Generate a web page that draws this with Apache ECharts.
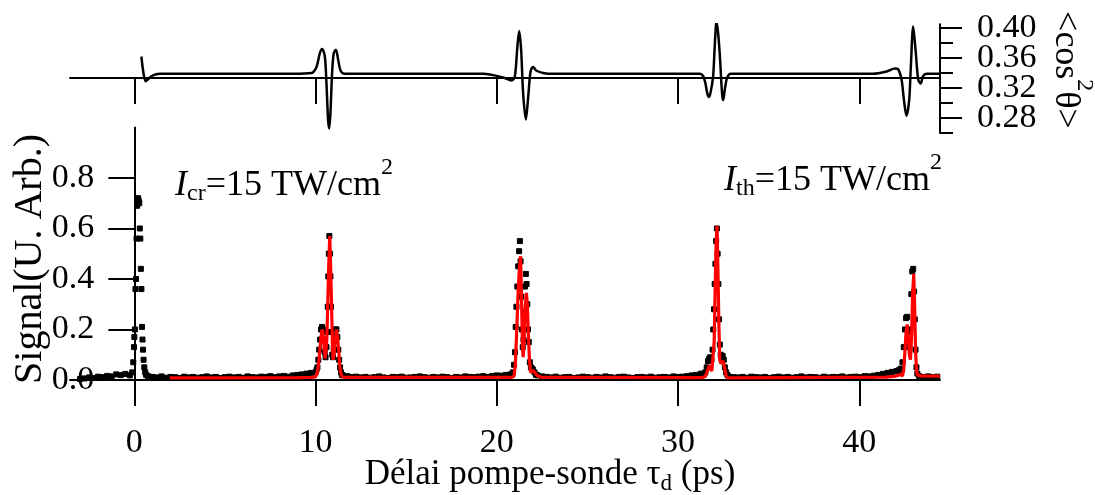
<!DOCTYPE html>
<html><head><meta charset="utf-8">
<script src="https://cdn.jsdelivr.net/npm/echarts@6/dist/echarts.min.js"></script>
<style>html,body{margin:0;padding:0;background:#fff}#c{width:1095px;height:495px}</style>
</head><body><div id="c"></div>
<script>
// ---------- tick values ----------
const xTicks = [0, 10, 20, 30, 40];
const sigTicks = [0, 0.2, 0.4, 0.6, 0.8];
const cosMajorTicks = [0.28, 0.32, 0.36, 0.40];
const cosLabelsA = [0.28, 0.36];
const cosLabelsB = [0.32, 0.40];
const cosMinorTicks = [0.26, 0.30, 0.34, 0.38];

// ---------- top panel: <cos^2 theta> (t in ps, value) ----------
const cosAlign = [
  [0.39,0.362],[0.49,0.342],[0.62,0.329],[0.73,0.331],[0.95,0.336],[1.41,0.339],[1.78,0.339],
  [8.76,0.339],[9.78,0.340],[10.05,0.348],[10.23,0.366],[10.36,0.372],[10.51,0.362],[10.6,0.326],
  [10.69,0.277],[10.75,0.266],[10.82,0.287],[10.91,0.340],[11.0,0.366],[11.12,0.371],[11.25,0.357],
  [11.38,0.343],[11.61,0.339],
  [19.25,0.339],[20.35,0.334],[20.81,0.330],[20.99,0.335],[21.12,0.371],[21.23,0.396],[21.34,0.371],
  [21.45,0.313],[21.6,0.278],[21.73,0.308],[21.86,0.342],[22.0,0.348],[22.19,0.343],[22.56,0.340],
  [22.83,0.339],
  [31.2,0.339],[31.38,0.336],[31.5,0.327],[31.62,0.312],[31.71,0.308],[31.8,0.315],[31.93,0.335],
  [31.98,0.355],[32.04,0.385],[32.09,0.404],[32.12,0.408],[32.2,0.395],[32.3,0.365],[32.38,0.330],
  [32.44,0.309],[32.49,0.304],[32.56,0.315],[32.67,0.331],[32.78,0.337],[32.9,0.339],
  [40.76,0.339],[41.5,0.342],[41.96,0.346],[42.14,0.345],[42.33,0.331],[42.46,0.304],[42.6,0.283],
  [42.75,0.304],[42.84,0.348],[42.97,0.402],[43.1,0.371],[43.25,0.331],[43.38,0.326],[43.52,0.336],
  [43.71,0.339],[44.44,0.339]
];

// ---------- bottom panel: fit (red) ----------
const fitCurve = [
  [1.96,0.008],[5,0.008],[9.0,0.009],[9.8,0.01],[10.0,0.012],[10.05,0.018],[10.1,0.03],[10.15,0.055],
  [10.2,0.09],[10.25,0.13],[10.3,0.17],[10.36,0.2],[10.42,0.18],[10.48,0.12],[10.53,0.085],[10.57,0.08],
  [10.62,0.16],[10.67,0.3],[10.72,0.44],[10.78,0.57],[10.83,0.45],[10.88,0.3],[10.93,0.13],[10.97,0.08],
  [11.02,0.1],[11.08,0.16],[11.15,0.2],[11.21,0.17],[11.27,0.12],[11.33,0.06],[11.38,0.03],[11.45,0.014],
  [11.6,0.01],[20.8,0.01],[20.95,0.015],[21.02,0.06],[21.1,0.2],[21.18,0.36],[21.25,0.45],[21.31,0.49],
  [21.36,0.33],[21.41,0.15],[21.45,0.09],[21.5,0.15],[21.56,0.28],[21.63,0.345],[21.68,0.3],[21.74,0.18],
  [21.8,0.08],[21.86,0.03],[21.93,0.034],[22.0,0.038],[22.1,0.028],[22.25,0.016],[22.5,0.01],
  [31.3,0.009],[31.5,0.014],[31.62,0.035],[31.72,0.058],[31.79,0.06],[31.86,0.035],[31.93,0.03],
  [31.99,0.15],[32.05,0.38],[32.1,0.55],[32.15,0.61],[32.2,0.43],[32.25,0.22],[32.3,0.08],[32.36,0.065],
  [32.42,0.07],[32.49,0.075],[32.56,0.05],[32.64,0.02],[32.72,0.008],[33.0,0.008],
  [41.5,0.011],[42.0,0.015],[42.25,0.022],[42.38,0.016],[42.45,0.04],[42.52,0.12],[42.58,0.19],
  [42.64,0.22],[42.7,0.17],[42.76,0.1],[42.82,0.08],[42.88,0.17],[42.94,0.34],[43.0,0.42],[43.05,0.3],
  [43.1,0.12],[43.15,0.04],[43.2,0.02],[43.4,0.016],[44.44,0.015]
];

// ---------- bottom panel: measured signal (black squares) ----------
const BASE_STEP = 0.25;
const base0Start = -3.0;
const base0 = [0.004,0.006,0.010,0.008,0.013,0.011,0.016,0.014,0.022,0.019,0.024,0.018];
const peak0 = [[-0.12,0.03],[-0.06,0.07],[-0.02,0.13],[0.0,0.17],[0.03,0.2],[0.06,0.36],[0.09,0.4],
  [0.12,0.56],[0.15,0.69],[0.18,0.71],[0.21,0.72],[0.24,0.71],[0.27,0.7],[0.3,0.6],[0.33,0.56],
  [0.36,0.44],[0.39,0.36],[0.42,0.21],[0.45,0.16],[0.48,0.12],[0.51,0.08],[0.55,0.05],[0.6,0.03],[0.65,0.02]];
const base1Start = 0.75;
const base1 = [0.015,0.012,0.010,0.014,0.009,0.012,0.011,0.008,0.013,0.010,0.012,0.009,0.011,0.014,
  0.010,0.012,0.008,0.011,0.013,0.010,0.012,0.009,0.014,0.011,0.010,0.013,0.012,0.015,0.011,0.014,
  0.016,0.013,0.018,0.020,0.022,0.025,0.028];
const peak1 = [[10.0,0.03],[10.05,0.04],[10.1,0.05],[10.15,0.08],[10.2,0.12],[10.25,0.16],[10.3,0.2],
  [10.35,0.21],[10.4,0.2],[10.45,0.16],[10.5,0.11],[10.55,0.09],[10.6,0.13],[10.64,0.19],[10.67,0.29],
  [10.7,0.41],[10.73,0.5],[10.76,0.57],[10.79,0.5],[10.82,0.41],[10.85,0.29],[10.88,0.19],[10.92,0.1],
  [10.96,0.09],[11.0,0.12],[11.05,0.17],[11.1,0.2],[11.15,0.2],[11.2,0.17],[11.25,0.12],[11.3,0.08],
  [11.35,0.05],[11.4,0.03],[11.45,0.02]];
const base2Start = 11.5;
const base2 = [0.018,0.015,0.012,0.013,0.010,0.012,0.009,0.011,0.014,0.010,0.008,0.012,0.011,0.013,
  0.009,0.010,0.012,0.014,0.011,0.009,0.012,0.010,0.013,0.011,0.008,0.012,0.010,0.014,0.012,0.011,
  0.013,0.015,0.012,0.016,0.018,0.017,0.020,0.022];
const peak2 = [[20.8,0.02],[20.88,0.03],[20.95,0.06],[21.0,0.11],[21.04,0.21],[21.08,0.29],[21.13,0.37],
  [21.18,0.45],[21.23,0.51],[21.27,0.55],[21.31,0.47],[21.35,0.33],[21.39,0.2],[21.43,0.13],[21.47,0.16],
  [21.51,0.27],[21.55,0.37],[21.6,0.42],[21.64,0.38],[21.68,0.3],[21.72,0.2],[21.76,0.15],[21.82,0.07],
  [21.88,0.05],[21.94,0.045],[22.0,0.04],[22.08,0.03],[22.16,0.02],[22.25,0.018]];
const base3Start = 22.5;
const base3 = [0.014,0.012,0.010,0.013,0.009,0.011,0.012,0.008,0.010,0.013,0.011,0.009,0.012,0.010,
  0.014,0.011,0.009,0.012,0.013,0.010,0.008,0.011,0.012,0.010,0.013,0.009,0.011,0.012,0.010,0.014,
  0.012,0.013,0.015,0.018,0.020,0.025];
const peak3 = [[31.4,0.02],[31.5,0.03],[31.58,0.05],[31.65,0.075],[31.72,0.085],[31.78,0.09],[31.84,0.08],
  [31.9,0.12],[31.94,0.2],[31.98,0.28],[32.02,0.38],[32.06,0.46],[32.1,0.55],[32.14,0.6],[32.18,0.5],
  [32.22,0.38],[32.26,0.24],[32.3,0.14],[32.35,0.1],[32.4,0.09],[32.46,0.095],[32.52,0.08],[32.58,0.05],
  [32.65,0.03],[32.72,0.02]];
const base4Start = 32.8;
const base4 = [0.013,0.011,0.010,0.012,0.009,0.013,0.011,0.010,0.012,0.008,0.011,0.013,0.010,0.012,
  0.009,0.011,0.014,0.010,0.012,0.011,0.009,0.013,0.010,0.012,0.011,0.014,0.010,0.012,0.013,0.011,
  0.015,0.014,0.017,0.020,0.024,0.028,0.032,0.035];
const peak4 = [[42.1,0.035],[42.2,0.04],[42.3,0.045],[42.38,0.07],[42.45,0.13],[42.52,0.2],[42.58,0.245],
  [42.64,0.25],[42.7,0.19],[42.76,0.13],[42.82,0.2],[42.87,0.34],[42.92,0.43],[42.97,0.44],[43.02,0.35],
  [43.06,0.24],[43.1,0.12],[43.15,0.05],[43.2,0.025]];
const base5Start = 43.3;
const base5 = [0.015,0.012,0.014,0.011,0.013];

function grid(start, vals) { return vals.map((v, i) => [+(start + i * BASE_STEP).toFixed(3), v]); }
const measured = [].concat(
  grid(base0Start, base0), peak0, grid(base1Start, base1), peak1,
  grid(base2Start, base2), peak2, grid(base3Start, base3), peak3,
  grid(base4Start, base4), peak4, grid(base5Start, base5));

// ---------- layout ----------
const FONT = '"Liberation Serif", "Times New Roman", serif';
const X_MIN = -3.55, X_MAX = 44.45;
const L = 70, W = 870;
const X0 = L + (0 - X_MIN) / (X_MAX - X_MIN) * W;   // pixel of t = 0
const TICK_FS = 34;
const COS_MIN = 0.26, COS_MAX = 0.405;
const SIG_MIN = -0.02, SIG_MAX = 1.0;
const BOT_TOP = 127.5, BOT_H = 257.5;
const ZERO_Y = BOT_TOP + BOT_H * SIG_MAX / (SIG_MAX - SIG_MIN);

const black = '#000';
const line2 = {color: black, width: 2};
const hidden = {show: false};
const chart = echarts.init(document.getElementById('c'), null, {renderer: 'canvas'});
const gb = {outerBoundsMode: 'none', containLabel: false};

// rich text styles: superscript raised, subscript lowered
function richSet(main, small, mainLH, subPad) {
  return {
    i: {fontFamily: FONT, fontSize: main, fontStyle: 'italic', lineHeight: mainLH, fill: black},
    n: {fontFamily: FONT, fontSize: main, lineHeight: mainLH, fill: black},
    s: {fontFamily: FONT, fontSize: small, verticalAlign: 'middle', padding: [subPad, 0, 0, 0], fill: black},
    p: {fontFamily: FONT, fontSize: small, verticalAlign: 'top', fill: black}
  };
}

const option = {
  animation: false,
  backgroundColor: '#fff',
  grid: [
    Object.assign({left: L, width: W, top: 24.25, height: 108.75}, gb),
    Object.assign({left: L, width: W, top: 0, height: 78}, gb),
    Object.assign({left: L, width: W, top: BOT_TOP, height: BOT_H}, gb),
    Object.assign({left: L, width: W, top: BOT_TOP, height: ZERO_Y - BOT_TOP}, gb),
    Object.assign({left: X0, width: L + W - X0, top: BOT_TOP, height: BOT_H}, gb)
  ],
  xAxis: [
    {gridIndex: 0, type: 'value', min: X_MIN, max: X_MAX, show: false},
    {gridIndex: 1, type: 'value', min: X_MIN, max: X_MAX, position: 'bottom',
      axisLine: {show: true, onZero: false, lineStyle: line2},
      axisTick: {show: true, customValues: xTicks, length: 26, inside: false, lineStyle: line2},
      axisLabel: hidden, splitLine: hidden},
    {gridIndex: 2, type: 'value', min: X_MIN, max: X_MAX, show: false},
    {gridIndex: 3, type: 'value', min: X_MIN, max: X_MAX, position: 'bottom',
      axisLine: {show: true, onZero: false, lineStyle: line2},
      axisTick: {show: true, customValues: xTicks, length: 26, inside: false, lineStyle: line2},
      axisLabel: {show: true, customValues: xTicks, margin: 46, color: black, fontFamily: FONT, fontSize: TICK_FS},
      splitLine: hidden},
    {gridIndex: 4, type: 'value', min: 0, max: 1, show: false}
  ],
  yAxis: [
    {gridIndex: 0, type: 'value', min: COS_MIN, max: COS_MAX, position: 'right',
      axisLine: {show: true, onZero: false, lineStyle: line2},
      axisTick: {show: true, customValues: cosMajorTicks, length: 22, inside: false, lineStyle: line2},
      axisLabel: {show: true, customValues: cosLabelsA, margin: 37, color: black, fontFamily: FONT,
        fontSize: TICK_FS, formatter: v => v.toFixed(2)},
      splitLine: hidden},
    {gridIndex: 0, type: 'value', min: COS_MIN, max: COS_MAX, position: 'right',
      axisLine: {show: false, onZero: false}, axisTick: hidden,
      axisLabel: {show: true, customValues: cosLabelsB, margin: 37, color: black, fontFamily: FONT,
        fontSize: TICK_FS, formatter: v => v.toFixed(2)},
      splitLine: hidden},
    {gridIndex: 0, type: 'value', min: COS_MIN, max: COS_MAX, position: 'right',
      axisLine: {show: false, onZero: false},
      axisTick: {show: true, customValues: cosMinorTicks, length: 13, inside: false, lineStyle: line2},
      axisLabel: hidden, splitLine: hidden},
    {gridIndex: 1, type: 'value', min: 0, max: 1, show: false},
    {gridIndex: 2, type: 'value', min: SIG_MIN, max: SIG_MAX, show: false},
    {gridIndex: 3, type: 'value', min: 0, max: 1, show: false},
    {gridIndex: 4, type: 'value', min: SIG_MIN, max: SIG_MAX, position: 'left',
      axisLine: {show: true, onZero: false, lineStyle: line2},
      axisTick: {show: true, customValues: sigTicks, length: 26, inside: false, lineStyle: line2},
      axisLabel: {show: true, customValues: sigTicks, margin: 40, color: black, fontFamily: FONT, fontSize: TICK_FS,
        formatter: v => v.toFixed(1)},
      splitLine: hidden}
  ],
  series: [
    {type: 'line', xAxisIndex: 0, yAxisIndex: 0, data: cosAlign, showSymbol: false, smooth: 0.3,
      lineStyle: {color: black, width: 2.5}, z: 3},
    {type: 'scatter', xAxisIndex: 2, yAxisIndex: 4, data: measured, symbol: 'rect', symbolSize: 5,
      itemStyle: {color: black, borderColor: black, borderWidth: 1, opacity: 1}, z: 5},
    {type: 'line', xAxisIndex: 2, yAxisIndex: 4, data: fitCurve, showSymbol: false,
      lineStyle: {color: '#ff0000', width: 3.2}, z: 6}
  ],
  graphic: [
    {type: 'text', x: 30, y: 259, rotation: Math.PI / 2,
      style: {text: 'Signal(U. Arb.)', fontFamily: FONT, fontSize: 40, fill: black, align: 'center', verticalAlign: 'middle'}},
    {type: 'text', x: 550, y: 475,
      style: {text: '{n|Délai pompe-sonde τ}{s|d}{n| (ps)}', align: 'center', verticalAlign: 'middle',
        rich: richSet(35, 23, 38, 18)}},
    {type: 'text', x: 1065, y: 70, rotation: -Math.PI / 2,
      style: {text: '{n|<cos}{p|2}{n|θ>}', align: 'center', verticalAlign: 'middle',
        rich: richSet(36, 24, 62, 0)}},
    {type: 'text', x: 175, y: 186,
      style: {text: '{i|I}{s|cr}{n|=15 TW/cm}{p|2}', align: 'left', verticalAlign: 'middle',
        rich: richSet(36, 24, 60, 16)}},
    {type: 'text', x: 724, y: 181,
      style: {text: '{i|I}{s|th}{n|=15 TW/cm}{p|2}', align: 'left', verticalAlign: 'middle',
        rich: richSet(36, 24, 60, 16)}}
  ]
};
chart.setOption(option);
</script></body></html>
